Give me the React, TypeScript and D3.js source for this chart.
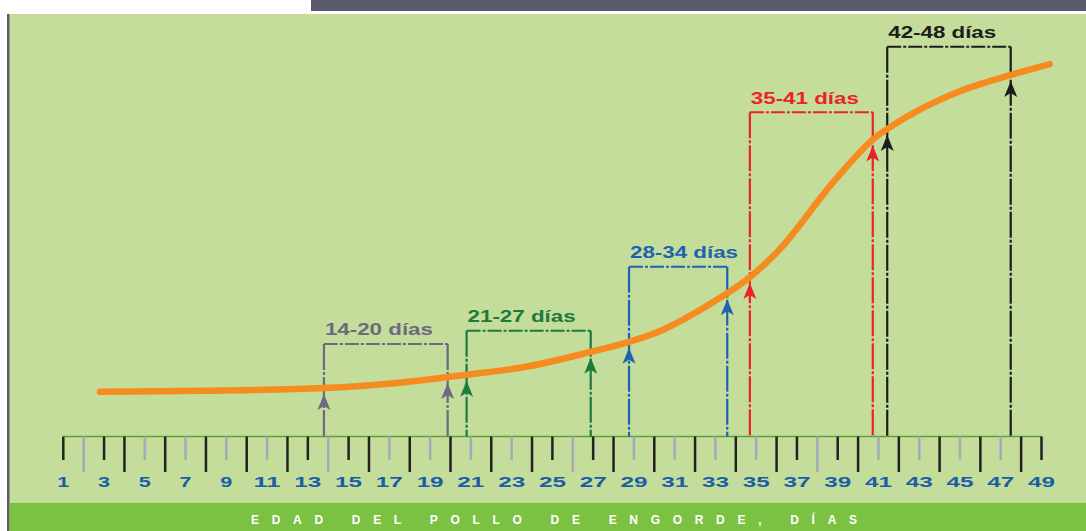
import React from "react";
import * as d3 from "d3";

// Curva de crecimiento (día, valor relativo 0-100)
const curveDays = [2.8, 7.7, 13.8, 17.5, 20.8, 23.9, 26.9, 28.8, 30.4, 33.6, 34.7, 36.2, 38.8, 40.7, 41.4, 43.0, 45.0, 47.5, 49.4];
const curveValues = [2.4, 2.7, 3.5, 5.1, 7.4, 10.0, 14.2, 17.2, 20.6, 31.5, 36.2, 44.6, 64.2, 76.5, 79.6, 85.3, 90.8, 95.6, 98.8];

// Eje de días
const tickLabels = [1, 3, 5, 7, 9, 11, 13, 15, 17, 19, 21, 23, 25, 27, 29, 31, 33, 35, 37, 39, 41, 43, 45, 47, 49];

// Intervalos semanales
const bracketLabels = ["14-20 días", "21-27 días", "28-34 días", "35-41 días", "42-48 días"];
const bracketStart = [13.79, 20.79, 28.76, 34.69, 41.43];
const bracketEnd = [19.86, 26.88, 33.58, 40.72, 47.49];
const bracketTop = [16.5, 20.4, 39.2, 84.6, 103.9];
const bracketColors = ["#6d6980", "#1d7a3e", "#2062b0", "#ec2227", "#1c1c1c"];

const W = 1086;
const H = 531;
const AXIS_Y = 436.5;
const FONT = "'Liberation Sans', Arial, sans-serif";

const App: React.FC = () => {
  const x = d3.scaleLinear().domain([1, 49]).range([63.3, 1041.5]);
  const y = d3.scaleLinear().domain([0, 100]).range([400, 60]);
  const valueAt = d3.scaleLinear().domain(curveDays).range(curveValues).clamp(true);

  const pts: [number, number][] = curveDays.map((d, i) => [d, curveValues[i]]);
  const line = d3
    .line<[number, number]>()
    .x((d) => x(d[0]))
    .y((d) => y(d[1]))
    .curve(d3.curveCatmullRom.alpha(0.5));

  const days = d3.range(1, 50);
  const tickStyle = (d: number) => {
    const m = (d - 1) % 12;
    if (m === 0 || m === 2) return { color: "#222", len: 23.5 };
    if (m === 1) return { color: "#a3aab9", len: 35.5 };
    return d % 2 === 0 ? { color: "#222", len: 35.5 } : { color: "#a3aab9", len: 23.5 };
  };

  const arrowHead = "M0,0 L6.5,16 L0,12 L-6.5,16 Z";

  return (
    <>
      <style>{"body{margin:0}"}</style>
      <svg width={W} height={H} style={{ display: "block" }}>
        <rect x={0} y={0} width={W} height={H} fill="#ffffff" />
        <rect x={311} y={0} width={W - 311} height={11} fill="#5c5b6b" />
        <rect x={7} y={14} width={W - 7} height={H - 14} fill="#c4dd9a" />
        <rect x={7} y={14} width={2.5} height={H - 14} fill="#5a5a6a" />
        <rect x={9.5} y={503} width={W - 9.5} height={H - 503} fill="#7cc242" />
        <text
          x={251}
          y={524}
          fill="#ffffff"
          fontFamily={FONT}
          fontWeight="bold"
          fontSize={12}
          textLength={606}
          lengthAdjust="spacing"
        >
          EDAD DEL POLLO DE ENGORDE, DÍAS
        </text>

        {/* eje */}
        <line x1={x(1)} x2={x(49)} y1={AXIS_Y} y2={AXIS_Y} stroke="#5d9f3f" strokeWidth={1.5} />
        {days.map((d) => {
          const s = tickStyle(d);
          return (
            <line
              key={d}
              x1={x(d)}
              x2={x(d)}
              y1={AXIS_Y}
              y2={AXIS_Y + s.len}
              stroke={s.color}
              strokeWidth={2.5}
            />
          );
        })}
        {tickLabels.map((d) => (
          <text
            key={d}
            x={x(d)}
            y={487}
            textAnchor="middle"
            fill="#1b5ea8"
            fontFamily={FONT}
            fontWeight="bold"
            fontSize={15}
            textLength={String(d).length === 1 ? 12 : 27}
            lengthAdjust="spacingAndGlyphs"
          >
            {d}
          </text>
        ))}

        {/* corchetes */}
        {bracketLabels.map((lab, i) => {
          const x0 = x(bracketStart[i]);
          const x1 = x(bracketEnd[i]);
          const yt = y(bracketTop[i]);
          const c = bracketColors[i];
          return (
            <g key={lab}>
              <line x1={x0} x2={x0} y1={yt} y2={AXIS_Y} stroke={c} strokeWidth={2.2} strokeDasharray="26 2 3 2" />
              <line x1={x1} x2={x1} y1={yt} y2={AXIS_Y} stroke={c} strokeWidth={2.2} strokeDasharray="26 2 3 2" />
              <line x1={x0} x2={x1} y1={yt} y2={yt} stroke={c} strokeWidth={2} strokeDasharray="14 2 3 2" />
              <text
                x={x0 + 1}
                y={yt - 8.5}
                fill={c}
                fontFamily={FONT}
                fontWeight="bold"
                fontSize={16}
                textLength={108}
                lengthAdjust="spacingAndGlyphs"
              >
                {lab}
              </text>
            </g>
          );
        })}

        <path d={line(pts) || ""} fill="none" stroke="#f68b1f" strokeWidth={6.5} strokeLinecap="round" />

        {bracketLabels.map((lab, i) =>
          [bracketStart[i], bracketEnd[i]].map((d, j) => (
            <path
              key={lab + j}
              d={arrowHead}
              transform={`translate(${x(d)},${y(valueAt(d)) + 6})`}
              fill={bracketColors[i]}
            />
          ))
        )}
      </svg>
    </>
  );
};

export default App;
